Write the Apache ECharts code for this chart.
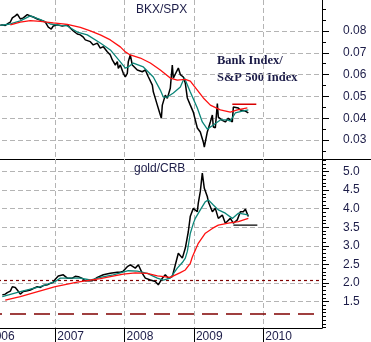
<!DOCTYPE html>
<html>
<head>
<meta charset="utf-8">
<script src="https://cdn.jsdelivr.net/npm/echarts@6/dist/echarts.min.js"></script>
<style>
  html, body { margin: 0; padding: 0; background: #fff; }
  #chart { width: 371px; height: 342px; }
</style>
</head>
<body>
<div id="chart"></div>
<script>
// x values are decimal years
const years = [2006, 2007, 2008, 2009, 2010]
const bkxTicks = [0.03, 0.04, 0.05, 0.06, 0.07, 0.08]
const bkxMinorTicks = [0.025, 0.03, 0.035, 0.04, 0.045, 0.05, 0.055, 0.06, 0.065, 0.07, 0.075, 0.08, 0.085, 0.09]
const goldTicks = [1.5, 2.0, 2.5, 3.0, 3.5, 4.0, 4.5, 5.0]
const goldMinorTicks = [0.8, 0.9, 1.0, 1.1, 1.2, 1.3, 1.4, 1.5, 1.6, 1.7, 1.8, 1.9, 2.0, 2.1, 2.2, 2.3, 2.4, 2.5,
  2.6, 2.7, 2.8, 2.9, 3.0, 3.1, 3.2, 3.3, 3.4, 3.5, 3.6, 3.7, 3.8, 3.9, 4.0, 4.1, 4.2, 4.3, 4.4, 4.5, 4.6, 4.7,
  4.8, 4.9, 5.0, 5.1, 5.2, 5.3]

// BKX/SPX ratio
const bkxSpx = [
  [2006.206, 0.0826], [2006.235, 0.0828], [2006.278, 0.0825], [2006.307, 0.0832], [2006.351, 0.0841],
  [2006.380, 0.0860], [2006.423, 0.0869], [2006.452, 0.0877], [2006.495, 0.0855], [2006.538, 0.0860],
  [2006.596, 0.0875], [2006.639, 0.0869], [2006.683, 0.0864], [2006.740, 0.0855], [2006.784, 0.0850],
  [2006.856, 0.0841], [2006.899, 0.0818], [2006.942, 0.0809], [2006.971, 0.0823], [2007.029, 0.0828],
  [2007.101, 0.0823], [2007.173, 0.0828], [2007.216, 0.0814], [2007.260, 0.0800], [2007.317, 0.0786],
  [2007.361, 0.0782], [2007.404, 0.0772], [2007.433, 0.0759], [2007.505, 0.0751], [2007.548, 0.0736],
  [2007.606, 0.0744], [2007.649, 0.0721], [2007.693, 0.0728], [2007.750, 0.0705], [2007.794, 0.0690],
  [2007.823, 0.0667], [2007.837, 0.0675], [2007.866, 0.0644], [2007.895, 0.0659], [2007.909, 0.0629],
  [2007.938, 0.0644], [2007.981, 0.0606], [2008.010, 0.0590], [2008.039, 0.0606], [2008.053, 0.0659],
  [2008.082, 0.0690], [2008.111, 0.0644], [2008.126, 0.0652], [2008.183, 0.0621], [2008.198, 0.0628],
  [2008.255, 0.0613], [2008.299, 0.0621], [2008.342, 0.0590], [2008.400, 0.0552], [2008.414, 0.0521],
  [2008.443, 0.0491], [2008.472, 0.0460], [2008.501, 0.0430], [2008.530, 0.0400], [2008.544, 0.0460],
  [2008.587, 0.0506], [2008.616, 0.0491], [2008.659, 0.0537], [2008.688, 0.0644], [2008.703, 0.0583],
  [2008.746, 0.0612], [2008.775, 0.0630], [2008.804, 0.0600], [2008.847, 0.0589], [2008.876, 0.0560],
  [2008.905, 0.0493], [2008.948, 0.0460], [2008.991, 0.0428], [2009.049, 0.0355], [2009.092, 0.0337],
  [2009.136, 0.0290], [2009.150, 0.0268], [2009.193, 0.0337], [2009.237, 0.0383], [2009.266, 0.0415],
  [2009.280, 0.0360], [2009.309, 0.0356], [2009.338, 0.0467], [2009.352, 0.0405], [2009.410, 0.0390],
  [2009.453, 0.0383], [2009.496, 0.0400], [2009.554, 0.0383], [2009.569, 0.0451], [2009.597, 0.0460],
  [2009.641, 0.0447], [2009.670, 0.0438], [2009.698, 0.0447], [2009.742, 0.0433], [2009.785, 0.0424]
]
const bkxShortAvg = [
  [2006.206, 0.0826], [2006.351, 0.0832], [2006.495, 0.0846], [2006.639, 0.0869], [2006.784, 0.0852],
  [2006.928, 0.0832], [2007.072, 0.0826], [2007.173, 0.0823], [2007.317, 0.0795], [2007.462, 0.0782],
  [2007.649, 0.0745], [2007.794, 0.0713], [2007.938, 0.0658], [2008.010, 0.0630], [2008.053, 0.0635],
  [2008.126, 0.0653], [2008.270, 0.0635], [2008.414, 0.0589], [2008.515, 0.0529], [2008.558, 0.0497],
  [2008.616, 0.0497], [2008.703, 0.0516], [2008.804, 0.0543], [2008.862, 0.0586], [2008.948, 0.0520],
  [2009.049, 0.0447], [2009.121, 0.0383], [2009.193, 0.0350], [2009.280, 0.0369], [2009.381, 0.0392],
  [2009.482, 0.0392], [2009.525, 0.0387], [2009.597, 0.0424], [2009.698, 0.0433], [2009.785, 0.0438]
]
const bkxLongAvg = [
  [2006.351, 0.0828], [2006.495, 0.0841], [2006.639, 0.0847], [2006.784, 0.0844], [2006.971, 0.0837],
  [2007.173, 0.0830], [2007.361, 0.0816], [2007.505, 0.0800], [2007.649, 0.0782], [2007.794, 0.0759],
  [2007.938, 0.0727], [2008.010, 0.0704], [2008.082, 0.0690], [2008.227, 0.0676], [2008.371, 0.0653],
  [2008.515, 0.0621], [2008.659, 0.0584], [2008.760, 0.0575], [2008.876, 0.0578], [2008.948, 0.0570],
  [2009.049, 0.0529], [2009.136, 0.0493], [2009.237, 0.0460], [2009.381, 0.0438], [2009.525, 0.0428],
  [2009.626, 0.0438], [2009.771, 0.0447]
]
const bkxLevel = [[2009.554, 0.0464], [2009.900, 0.0464]]

// gold/CRB ratio
const goldCrb = [
  [2006.235, 1.68], [2006.278, 1.70], [2006.307, 1.74], [2006.351, 1.78], [2006.380, 1.90],
  [2006.394, 1.95], [2006.423, 1.88], [2006.452, 1.81], [2006.495, 1.70], [2006.538, 1.77],
  [2006.596, 1.79], [2006.639, 1.81], [2006.683, 1.85], [2006.740, 1.90], [2006.784, 1.88],
  [2006.827, 1.93], [2006.885, 1.95], [2006.928, 1.99], [2006.971, 2.02], [2007.000, 2.10],
  [2007.043, 2.19], [2007.115, 2.22], [2007.173, 2.13], [2007.245, 2.13], [2007.289, 2.18],
  [2007.332, 2.17], [2007.390, 2.12], [2007.433, 2.06], [2007.534, 2.06], [2007.606, 2.15],
  [2007.693, 2.22], [2007.794, 2.26], [2007.895, 2.29], [2007.938, 2.29], [2007.981, 2.32],
  [2008.039, 2.44], [2008.082, 2.49], [2008.154, 2.40], [2008.198, 2.49], [2008.255, 2.26],
  [2008.299, 2.13], [2008.371, 2.08], [2008.443, 2.04], [2008.486, 1.95], [2008.544, 2.13],
  [2008.587, 2.22], [2008.631, 2.13], [2008.688, 2.17], [2008.732, 2.49], [2008.775, 2.80],
  [2008.833, 2.67], [2008.876, 2.94], [2008.919, 3.38], [2008.948, 3.80], [2008.991, 4.01],
  [2009.049, 3.92], [2009.063, 4.15], [2009.092, 4.46], [2009.121, 4.96], [2009.150, 4.55],
  [2009.193, 4.33], [2009.208, 4.19], [2009.266, 3.92], [2009.309, 4.01], [2009.352, 3.74],
  [2009.410, 3.83], [2009.453, 3.61], [2009.525, 3.74], [2009.569, 3.61], [2009.626, 3.70],
  [2009.670, 3.92], [2009.713, 3.92], [2009.742, 3.99], [2009.785, 3.79]
]
const goldShortAvg = [
  [2006.235, 1.63], [2006.495, 1.77], [2006.784, 1.90], [2007.000, 2.04], [2007.072, 2.13],
  [2007.361, 2.13], [2007.505, 2.08], [2007.649, 2.15], [2007.837, 2.22], [2008.053, 2.33],
  [2008.183, 2.32], [2008.328, 2.26], [2008.472, 2.13], [2008.558, 2.08], [2008.659, 2.13],
  [2008.760, 2.40], [2008.833, 2.55], [2008.876, 2.67], [2008.905, 2.85], [2008.948, 3.34],
  [2008.991, 3.60], [2009.020, 3.74], [2009.092, 3.97], [2009.165, 4.19], [2009.208, 4.24],
  [2009.280, 4.10], [2009.352, 3.97], [2009.453, 3.88], [2009.554, 3.74], [2009.641, 3.88],
  [2009.742, 3.85], [2009.785, 3.83]
]
const goldLongAvg = [
  [2006.278, 1.54], [2006.495, 1.63], [2006.683, 1.73], [2007.000, 1.90], [2007.317, 2.02],
  [2007.649, 2.12], [2007.981, 2.24], [2008.154, 2.27], [2008.328, 2.26], [2008.472, 2.19],
  [2008.659, 2.15], [2008.804, 2.28], [2008.876, 2.35], [2008.948, 2.53], [2008.977, 2.70],
  [2009.063, 3.07], [2009.165, 3.34], [2009.266, 3.47], [2009.352, 3.56], [2009.496, 3.61],
  [2009.641, 3.65], [2009.785, 3.74]
]
const goldLevel = [[2009.569, 3.56], [2009.915, 3.56]]
const goldDotted = 2.07
const goldDashed = 1.18

const chart = echarts.init(document.getElementById('chart'))

const textColor = '#1c1c48'
const gridDash = { color: '#b4b4b4', type: [5, 3], width: 1 }

function line (data, xi, yi, color, width, z) {
  return {
    type: 'line',
    xAxisIndex: xi,
    yAxisIndex: yi,
    data: data,
    showSymbol: false,
    symbol: 'none',
    silent: true,
    z: z,
    lineStyle: { color: color, width: width }
  }
}

function rightAxis (gridIndex, min, max, ticks, digits) {
  return {
    type: 'value',
    gridIndex: gridIndex,
    position: 'right',
    min: min,
    max: max,
    axisLine: { show: true, lineStyle: { color: '#000', width: 1 } },
    axisTick: { show: true, customValues: ticks, length: 7, lineStyle: { color: '#000' } },
    axisLabel: {
      customValues: ticks,
      formatter: v => v.toFixed(digits),
      margin: 21,
      color: textColor,
      fontSize: 12,
      fontFamily: 'Liberation Sans, Arial'
    },
    splitLine: { show: true, lineStyle: gridDash }
  }
}

function minorAxis (gridIndex, min, max, ticks) {
  return {
    type: 'value',
    gridIndex: gridIndex,
    position: 'right',
    min: min,
    max: max,
    axisLine: { show: false },
    axisTick: { show: true, customValues: ticks, length: 4, lineStyle: { color: '#000' } },
    axisLabel: { show: false },
    splitLine: { show: false }
  }
}

const option = {
  animation: false,
  backgroundColor: '#fff',
  grid: [
    { left: -14, right: 49, top: 0, height: 159, outerBoundsMode: 'none' },
    { left: -14, right: 49, top: 159, height: 169, outerBoundsMode: 'none' }
  ],
  xAxis: [
    {
      type: 'value',
      gridIndex: 0,
      min: 2006,
      max: 2010.848,
      axisLine: { show: false },
      axisTick: { show: false, customValues: years },
      axisLabel: { show: false, customValues: years },
      splitLine: { show: true, lineStyle: gridDash }
    },
    {
      type: 'value',
      gridIndex: 1,
      min: 2006,
      max: 2010.848,
      axisLine: { show: true, lineStyle: { color: '#000', width: 1 } },
      axisTick: { show: true, customValues: years, length: 14, lineStyle: { color: '#000' } },
      axisLabel: {
        customValues: years,
        formatter: v => String(v),
        align: 'left',
        margin: 3,
        padding: [0, 0, 0, 2],
        color: textColor,
        fontSize: 12,
        fontFamily: 'Liberation Sans, Arial'
      },
      splitLine: { show: true, lineStyle: gridDash }
    }
  ],
  yAxis: [
    rightAxis(0, 0.0213, 0.0942, bkxTicks, 2),
    minorAxis(0, 0.0213, 0.0942, bkxMinorTicks),
    rightAxis(1, 0.787, 5.34, goldTicks, 1),
    minorAxis(1, 0.787, 5.34, goldMinorTicks)
  ],
  title: [
    {
      text: 'BKX/SPX',
      left: 136,
      top: 4,
      padding: 0,
      textStyle: { color: textColor, fontSize: 12, fontWeight: 'normal', fontFamily: 'Liberation Sans, Arial' }
    },
    {
      text: 'gold/CRB',
      left: 134,
      top: 163,
      padding: 0,
      textStyle: { color: textColor, fontSize: 12, fontWeight: 'normal', fontFamily: 'Liberation Sans, Arial' }
    }
  ],
  graphic: [
    {
      type: 'text',
      left: 217,
      top: 52,
      silent: true,
      style: {
        text: 'Bank Index/\nS&P 500 Index',
        fill: textColor,
        font: 'bold 12.5px "Liberation Serif", "Times New Roman", serif',
        lineHeight: 17
      }
    },
    {
      type: 'line',
      silent: true,
      shape: { x1: 0, y1: 159.5, x2: 371, y2: 159.5 },
      style: { stroke: '#000', lineWidth: 1 }
    }
  ],
  series: [
    line(bkxSpx, 0, 0, '#000', 1.5, 3),
    line(bkxShortAvg, 0, 0, '#0b8578', 1.3, 4),
    line(bkxLongAvg, 0, 0, '#ff1010', 1.3, 5),
    line(bkxLevel, 0, 0, '#d80000', 1.3, 5),
    Object.assign(line(goldCrb, 1, 2, '#000', 1.5, 3), {
      markLine: {
        silent: true,
        symbol: 'none',
        label: { show: false },
        z: 1,
        data: [
          { yAxis: goldDotted, lineStyle: { type: [3, 3], color: '#800000', width: 1.2 } },
          { yAxis: goldDashed, lineStyle: { type: [16, 8], color: '#800000', width: 1.5 } }
        ]
      }
    }),
    line(goldShortAvg, 1, 2, '#0b8578', 1.3, 4),
    line(goldLongAvg, 1, 2, '#ff1010', 1.3, 5),
    line(goldLevel, 1, 2, '#000', 1.3, 5)
  ]
}

chart.setOption(option)
</script>
</body>
</html>
